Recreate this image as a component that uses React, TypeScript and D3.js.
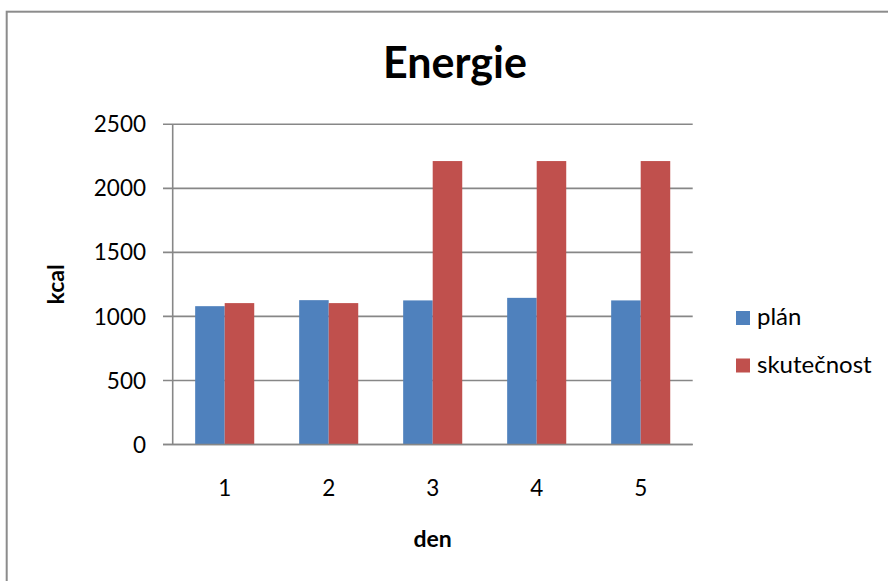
import React from "react";
import * as d3 from "d3";

// Days and the two energy series (kcal)
const days = ["1", "2", "3", "4", "5"];
const seriesNames = ["plán", "skutečnost"];
const planValues = [1080, 1127, 1125, 1145, 1125];
const actualValues = [1104, 1104, 2213, 2213, 2213];
const yTicks = [0, 500, 1000, 1500, 2000, 2500];
const seriesColors = ["#4F81BD", "#C0504D"];

const W = 888;
const H = 581;
const FONT = "Lato, 'Open Sans', sans-serif";

export default function App() {
  const plotLeft = 172.7;
  const plotRight = 692.7;
  const plotTop = 124.3;
  const plotBottom = 444.5;

  const x = d3
    .scaleBand<string>()
    .domain(days)
    .range([plotLeft, plotRight])
    .paddingInner(0.432)
    .paddingOuter(0.216);

  const xs = d3
    .scaleBand<string>()
    .domain(seriesNames)
    .range([0, x.bandwidth()]);

  const y = d3.scaleLinear().domain([0, 2500]).range([plotBottom, plotTop]);

  const rows = days.map((d, i) => ({
    day: d,
    values: [planValues[i], actualValues[i]],
  }));

  const gridColor = "#878787";

  return (
    <svg
      width={W}
      height={H}
      style={{ position: "absolute", left: 0, top: 0, background: "#fff" }}
    >
      {/* chart frame */}
      <rect
        x={6.7}
        y={11.7}
        width={W + 20}
        height={H + 20}
        fill="#fff"
        stroke="#8c8c8c"
        strokeWidth={2}
      />

      <text
        x={455}
        y={77.7}
        textAnchor="middle"
        fontFamily={FONT}
        fontWeight="bold"
        fontSize={43}
        fill="#000"
      >
        Energie
      </text>

      {/* horizontal gridlines with outside tick marks */}
      {yTicks.map((t) => (
        <line
          key={"g" + t}
          x1={163}
          x2={plotRight}
          y1={y(t)}
          y2={y(t)}
          stroke={gridColor}
          strokeWidth={1.6}
        />
      ))}

      {/* bars */}
      {rows.map((r) => (
        <g key={r.day} transform={`translate(${x(r.day)},0)`}>
          {r.values.map((v, j) => (
            <rect
              key={j}
              x={xs(seriesNames[j])}
              y={y(v)}
              width={xs.bandwidth()}
              height={plotBottom - y(v)}
              fill={seriesColors[j]}
            />
          ))}
        </g>
      ))}

      {/* axes */}
      <line
        x1={plotLeft}
        x2={plotLeft}
        y1={plotTop}
        y2={plotBottom}
        stroke={gridColor}
        strokeWidth={1.6}
      />
      <line
        x1={163}
        x2={plotRight}
        y1={plotBottom}
        y2={plotBottom}
        stroke={gridColor}
        strokeWidth={1.6}
      />

      {/* y tick labels */}
      {yTicks.map((t) => (
        <text
          key={"l" + t}
          x={146}
          y={y(t)}
          dy="0.36em"
          textAnchor="end"
          fontFamily={FONT}
          fontSize={22.5}
          fill="#000"
        >
          {t}
        </text>
      ))}

      {/* x tick labels */}
      {days.map((d) => (
        <text
          key={"x" + d}
          x={(x(d) as number) + x.bandwidth() / 2}
          y={496}
          textAnchor="middle"
          fontFamily={FONT}
          fontSize={22.5}
          fill="#000"
        >
          {d}
        </text>
      ))}

      {/* axis titles */}
      <text
        x={(plotLeft + plotRight) / 2}
        y={547}
        textAnchor="middle"
        fontFamily={FONT}
        fontWeight="bold"
        fontSize={23}
        fill="#000"
      >
        den
      </text>
      <text
        transform={`translate(64,${(plotTop + plotBottom) / 2}) rotate(-90)`}
        textAnchor="middle"
        fontFamily={FONT}
        fontWeight="bold"
        fontSize={23}
        fill="#000"
      >
        kcal
      </text>

      {/* legend */}
      {seriesNames.map((n, i) => (
        <g key={n} transform={`translate(736,${311 + i * 47.5})`}>
          <rect width={14} height={14} fill={seriesColors[i]} />
          <text
            x={21}
            y={14}
            fontFamily={FONT}
            fontSize={24}
            fill="#000"
          >
            {n}
          </text>
        </g>
      ))}
    </svg>
  );
}
